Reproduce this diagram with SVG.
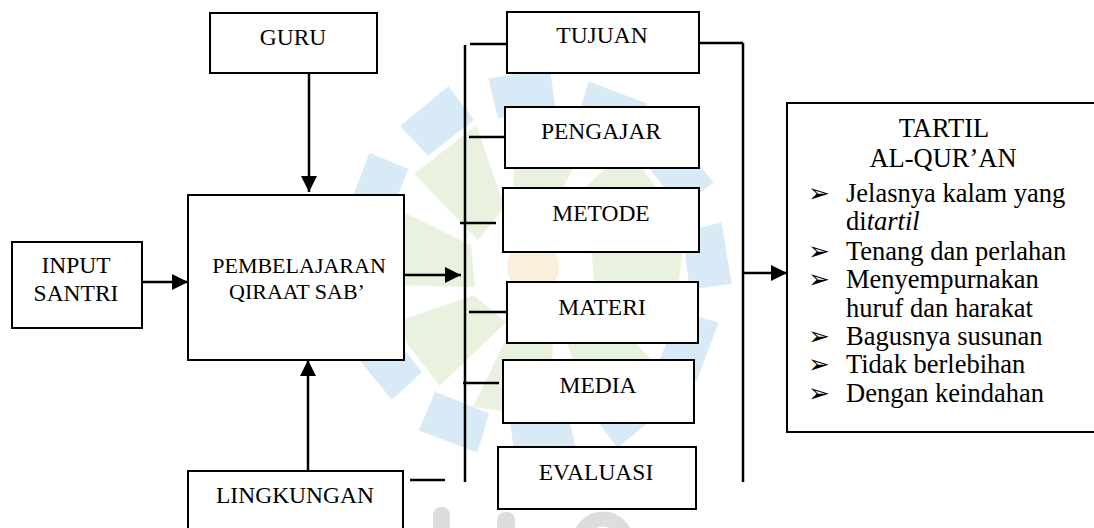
<svg xmlns="http://www.w3.org/2000/svg" xmlns:xlink="http://www.w3.org/1999/xlink" width="1094" height="528" viewBox="0 0 1094 528">
<style>
.box{fill:#fff;stroke:#000;stroke-width:2}
.ln{stroke:#000;stroke-width:2.5;fill:none}
.t{font-family:"Liberation Serif","Times New Roman",serif;font-size:23.5px;fill:#000;text-anchor:middle}
.ts{font-size:22px}
.r{font-family:"Liberation Serif","Times New Roman",serif;font-size:26.5px;fill:#000}
.b{font-family:"DejaVu Sans",sans-serif;font-size:26px}
.bp{fill:#d9eaf7}
.gp{fill:#e9f2df}
</style>
<defs>
<marker id="ah" viewBox="0 0 16 16" refX="16" refY="8" markerWidth="16" markerHeight="16" markerUnits="userSpaceOnUse" orient="auto">
<path d="M0,0 L16,8 L0,16 Z" fill="#000"/>
</marker>
<polygon id="bpiece" class="bp" points="-30,-150 28,-156 24,-198 -38,-190"/>
<polygon id="gpiece" class="gp" points="-20,-58 22,-62 60,-140 -18,-150"/>
</defs>
<rect width="1094" height="528" fill="#fff"/>
<g id="watermark">
<g transform="translate(533,267)">
<use xlink:href="#gpiece" transform="rotate(0)"/>
<use xlink:href="#gpiece" transform="rotate(45)"/>
<use xlink:href="#gpiece" transform="rotate(90)"/>
<use xlink:href="#gpiece" transform="rotate(135)"/>
<use xlink:href="#gpiece" transform="rotate(180)"/>
<use xlink:href="#gpiece" transform="rotate(225)"/>
<use xlink:href="#gpiece" transform="rotate(270)"/>
<use xlink:href="#gpiece" transform="rotate(315)"/>
<use xlink:href="#bpiece" transform="rotate(-2)"/>
<use xlink:href="#bpiece" transform="rotate(28)"/>
<use xlink:href="#bpiece" transform="rotate(58)"/>
<use xlink:href="#bpiece" transform="rotate(88)"/>
<use xlink:href="#bpiece" transform="rotate(118)"/>
<use xlink:href="#bpiece" transform="rotate(148)"/>
<use xlink:href="#bpiece" transform="rotate(178)"/>
<use xlink:href="#bpiece" transform="rotate(208)"/>
<use xlink:href="#bpiece" transform="rotate(238)"/>
<use xlink:href="#bpiece" transform="rotate(268)"/>
<use xlink:href="#bpiece" transform="rotate(298)"/>
<use xlink:href="#bpiece" transform="rotate(328)"/>
<circle r="26" fill="#fbefdc"/>
</g>
<rect x="433" y="507" width="17" height="40" rx="8" fill="#dddddd"/>
<rect x="497" y="512" width="18" height="40" rx="8" fill="#dddddd"/>
<circle cx="603" cy="542" r="23" fill="none" stroke="#dddddd" stroke-width="15"/>
</g>
<g id="connectors">
<line class="ln" x1="309" y1="73" x2="309" y2="192" marker-end="url(#ah)"/>
<line class="ln" x1="308" y1="471" x2="308" y2="360" marker-end="url(#ah)"/>
<line class="ln" x1="142" y1="282" x2="188" y2="282" marker-end="url(#ah)"/>
<line class="ln" x1="404" y1="275" x2="461" y2="275" marker-end="url(#ah)"/>
<line class="ln" x1="743" y1="273" x2="787" y2="273" marker-end="url(#ah)"/>
<line class="ln" x1="465" y1="45" x2="465" y2="482"/>
<line class="ln" x1="743" y1="43" x2="743" y2="482"/>
<line class="ln" x1="470" y1="44" x2="507" y2="44"/>
<line class="ln" x1="699" y1="43" x2="743" y2="43"/>
<line class="ln" x1="469" y1="137" x2="505" y2="137"/>
<line class="ln" x1="460" y1="223" x2="496" y2="223"/>
<line class="ln" x1="469" y1="312" x2="507" y2="312"/>
<line class="ln" x1="463" y1="383" x2="499" y2="383"/>
<line class="ln" x1="410" y1="480" x2="445" y2="480"/>
</g>
<g id="guru">
<rect class="box" x="210" y="13" width="167" height="60"/>
<text class="t" x="293" y="45">GURU</text>
</g>
<g id="input-santri">
<rect class="box" x="12" y="242" width="130" height="86"/>
<text class="t" x="76" y="273">INPUT</text>
<text class="t" x="76" y="301">SANTRI</text>
</g>
<g id="pembelajaran">
<rect class="box" x="188" y="195" width="216" height="165"/>
<text class="t ts" x="299" y="273">PEMBELAJARAN</text>
<text class="t ts" x="297" y="299">QIRAAT SAB’</text>
</g>
<g id="lingkungan">
<rect class="box" x="188" y="471" width="215" height="80"/>
<text class="t" x="295" y="503">LINGKUNGAN</text>
</g>
<g id="tujuan">
<rect class="box" x="507" y="12" width="192" height="61"/>
<text class="t" x="602" y="43">TUJUAN</text>
</g>
<g id="pengajar">
<rect class="box" x="505" y="107" width="194" height="61"/>
<text class="t" x="601" y="139">PENGAJAR</text>
</g>
<g id="metode">
<rect class="box" x="503" y="188" width="196" height="64"/>
<text class="t" x="601" y="221">METODE</text>
</g>
<g id="materi">
<rect class="box" x="507" y="282" width="191" height="61"/>
<text class="t" x="602" y="315">MATERI</text>
</g>
<g id="media">
<rect class="box" x="503" y="360" width="191" height="63"/>
<text class="t" x="598" y="393">MEDIA</text>
</g>
<g id="evaluasi">
<rect class="box" x="498" y="447" width="198" height="62"/>
<text class="t" x="596" y="480">EVALUASI</text>
</g>
<g id="tartil">
<rect class="box" x="787" y="103" width="330" height="329"/>
<text class="r" x="944" y="137" text-anchor="middle">TARTIL</text>
<text class="r" x="943" y="167" text-anchor="middle">AL-QUR’AN</text>
<text class="r" x="808" y="202"><tspan class="b">➢</tspan><tspan x="846">Jelasnya kalam yang</tspan></text>
<text class="r" x="846" y="230">di<tspan font-style="italic">tartil</tspan></text>
<text class="r" x="808" y="260"><tspan class="b">➢</tspan><tspan x="846">Tenang dan perlahan</tspan></text>
<text class="r" x="808" y="288"><tspan class="b">➢</tspan><tspan x="846">Menyempurnakan</tspan></text>
<text class="r" x="846" y="317">huruf dan harakat</text>
<text class="r" x="808" y="345"><tspan class="b">➢</tspan><tspan x="846">Bagusnya susunan</tspan></text>
<text class="r" x="808" y="373"><tspan class="b">➢</tspan><tspan x="846">Tidak berlebihan</tspan></text>
<text class="r" x="808" y="402"><tspan class="b">➢</tspan><tspan x="846">Dengan keindahan</tspan></text>
</g>
</svg>
